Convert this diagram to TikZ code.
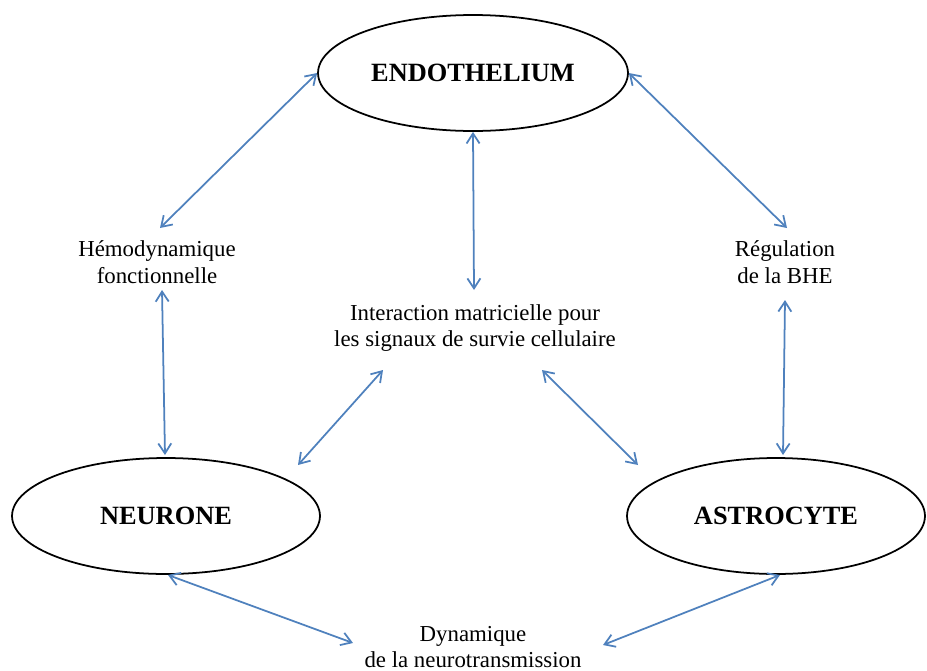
\documentclass[tikz,border=0pt]{standalone}
\usepackage{fontspec}
\setmainfont{Liberation Serif}
\usepackage{xcolor}
\usepackage{tikz}
\usetikzlibrary{arrows.meta, shapes.geometric}
\definecolor{linkblue}{RGB}{79, 129, 189}

\begin{document}
\begin{tikzpicture}[x=0.02cm, y=-0.02cm,
  cell/.style={ellipse, draw=black, line width=1pt, inner sep=0pt,
    minimum height=2.32cm, font=\fontsize{15}{17}\selectfont\bfseries},
  role/.style={align=center, inner sep=0pt, font=\fontsize{13}{15}\selectfont},
  link/.style={draw=linkblue, line width=1pt,
    {Straight Barb[length=2mm,width=2.6mm]}-{Straight Barb[length=2mm,width=2.6mm]}}]
  \useasboundingbox (0,0) rectangle (927,670);

  \node[cell, minimum width=6.2cm] (endo) at (473,73) {ENDOTHELIUM};
  \node[cell, minimum width=6.16cm] (neuro) at (166,516) {NEURONE};
  \node[cell, minimum width=5.96cm] (astro) at (776,516) {ASTROCYTE};

  \node[role] (hemo) at (157,262) {Hémodynamique\\fonctionnelle};
  \node[role] (regu) at (785,262) {Régulation\\de la BHE};
  \node[role] (inter) at (475,328) {Interaction matricielle pour\\les signaux de survie cellulaire};
  \node[role] (dyn) at (473,647) {Dynamique\\de la neurotransmission};

  \draw[link] (endo.west) -- ([shift={(3,-34)}]hemo.center);
  \draw[link] (endo.south) -- ([shift={(-1,-38)}]inter.center);
  \draw[link] (endo.east) -- ([shift={(2,-34)}]regu.center);
  \draw[link] ([shift={(5,28)}]hemo.center) -- ([shift={(-1,-61)}]neuro.center);
  \draw[link] ([shift={(0,38)}]regu.center) -- ([shift={(7,-61)}]astro.center);
  \draw[link] ([shift={(-92,42)}]inter.center) -- ([shift={(132,-51)}]neuro.center);
  \draw[link] ([shift={(67,42)}]inter.center) -- ([shift={(-138,-51)}]astro.center);
  \draw[link] ([shift={(2,59)}]neuro.center) -- ([shift={(-120,-4)}]dyn.center);
  \draw[link] ([shift={(4,59)}]astro.center) -- ([shift={(130,-2)}]dyn.center);
\end{tikzpicture}
\end{document}
